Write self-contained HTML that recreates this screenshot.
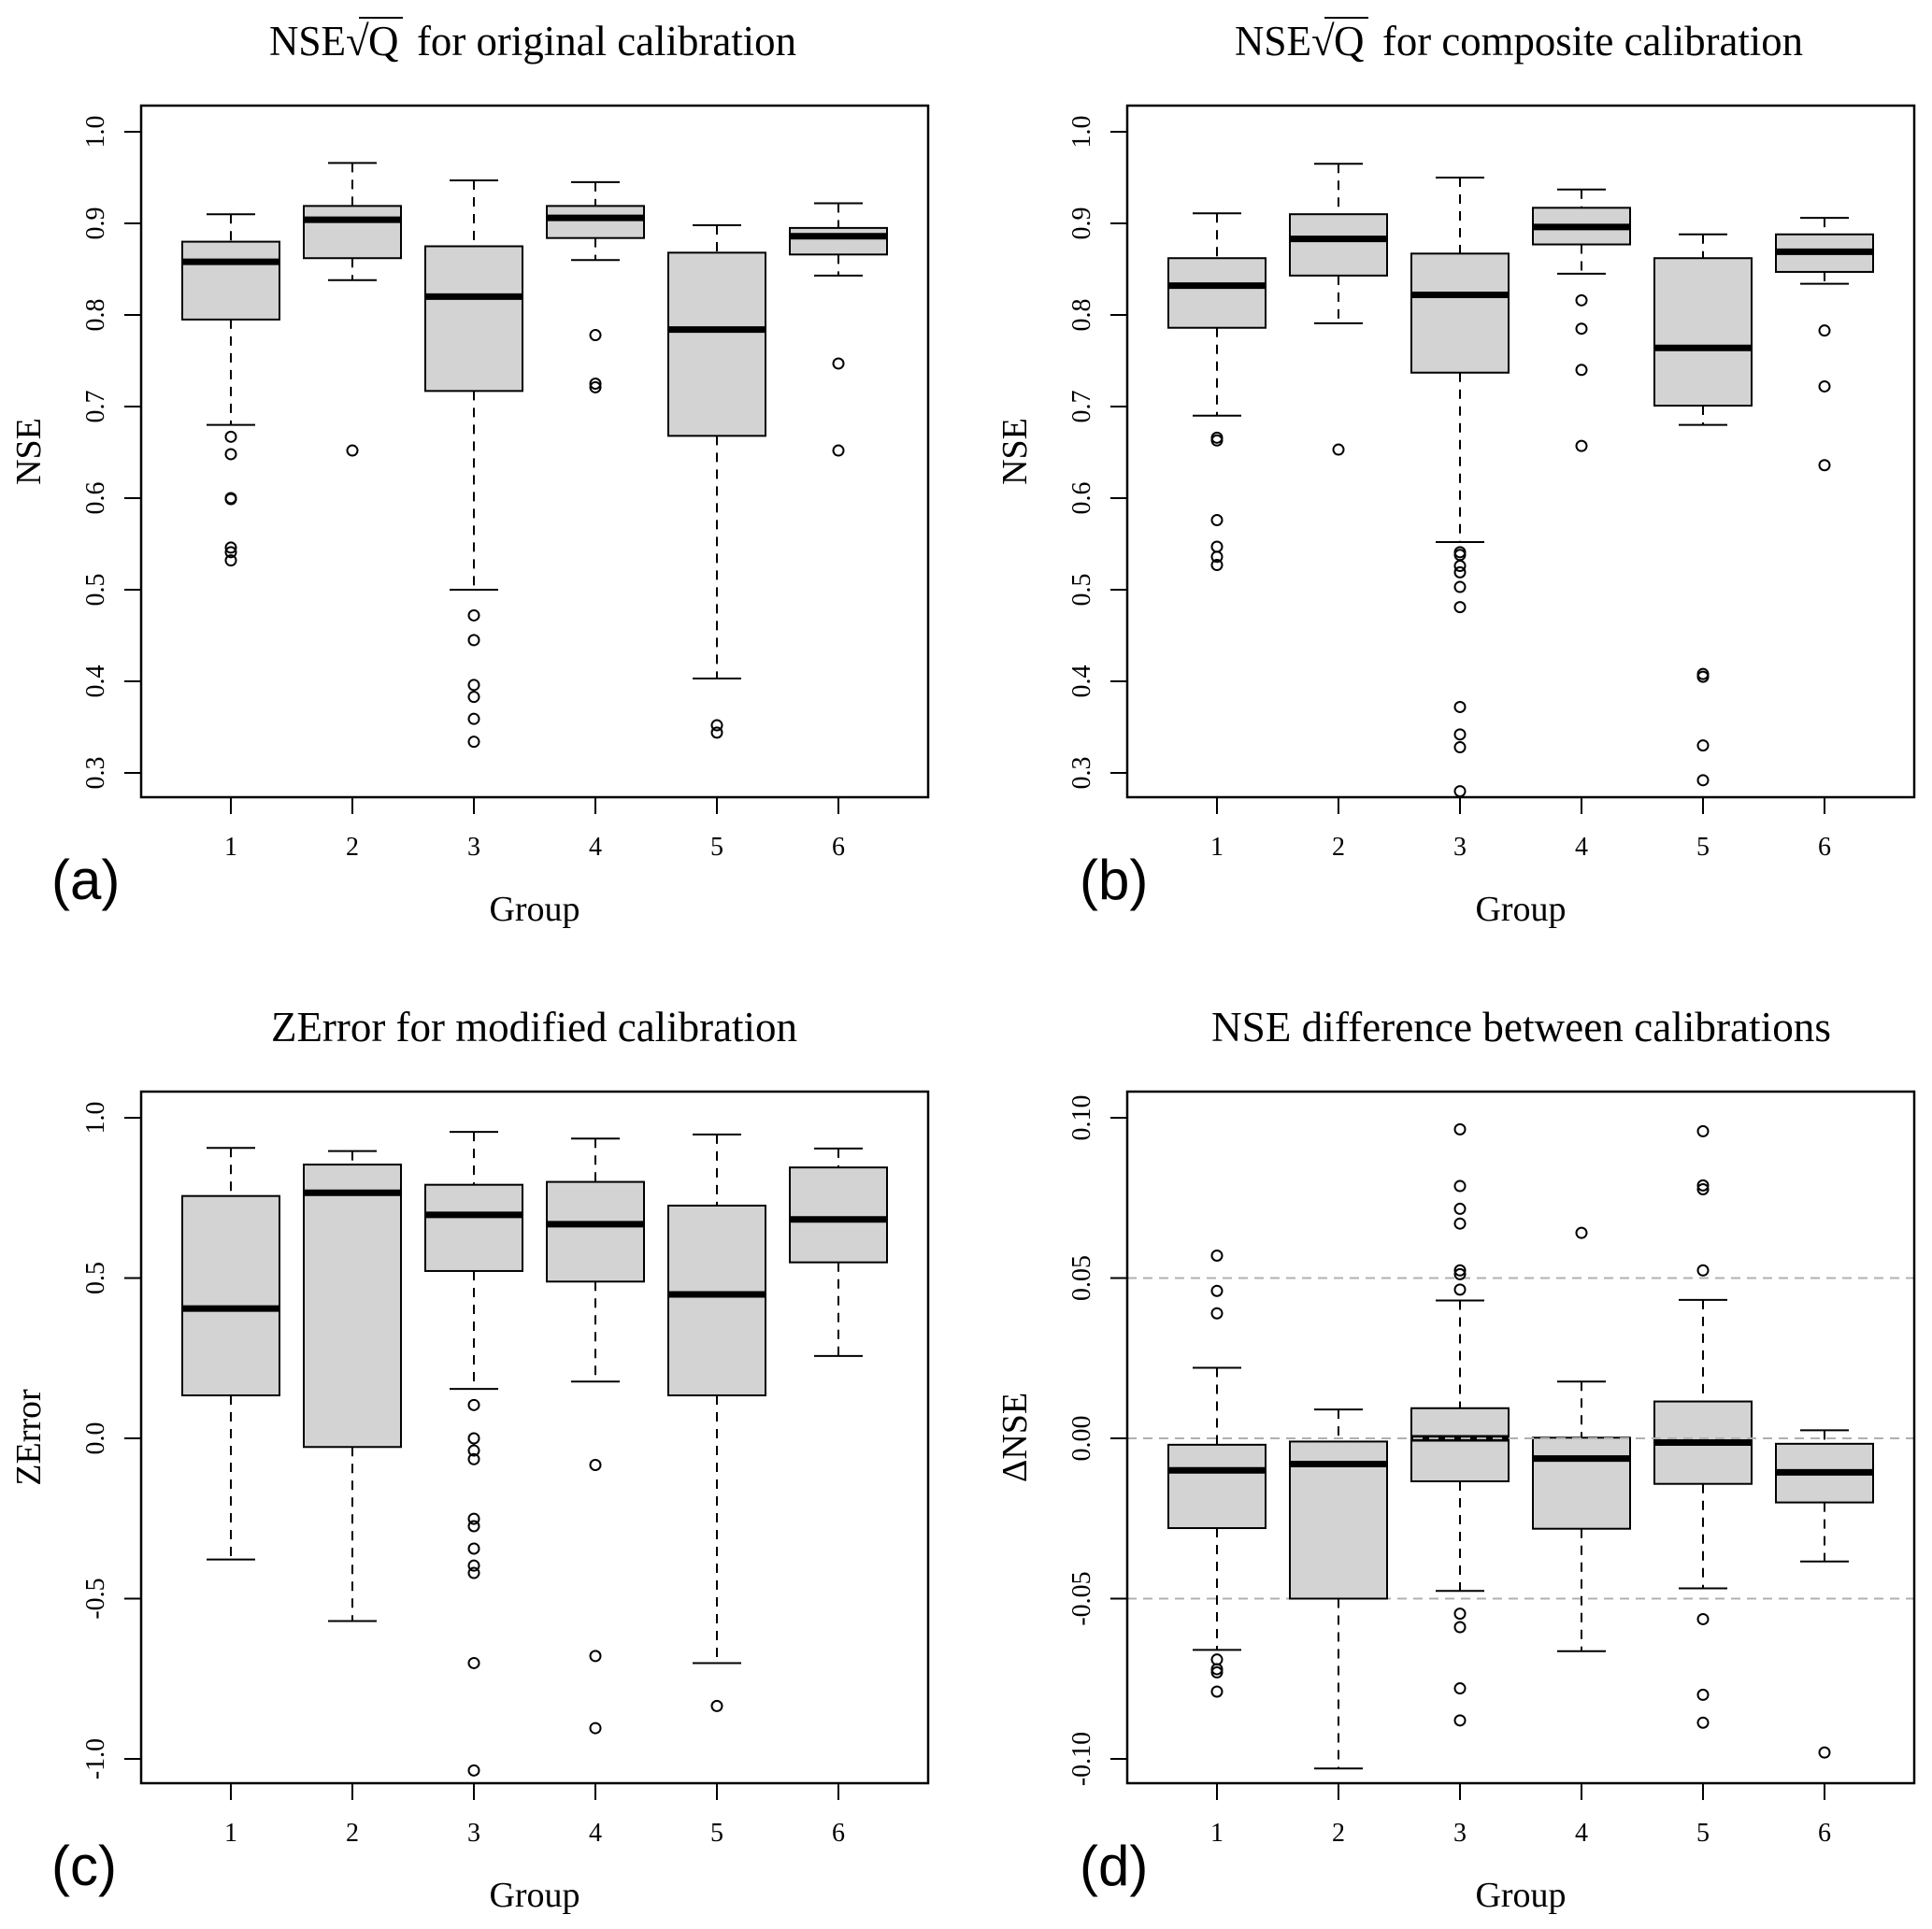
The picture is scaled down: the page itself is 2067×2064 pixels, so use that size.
<!DOCTYPE html>
<html><head><meta charset="utf-8"><style>
html,body{margin:0;padding:0;background:#fff;}
svg{display:block;font-family:"Liberation Serif",serif;}
</style></head><body>
<svg id="chart" width="2067" height="2064" viewBox="0 0 2067 2064" xmlns="http://www.w3.org/2000/svg"></svg>
<script>
// Panel (a) NSE sqrt(Q) original
const groups = ["1","2","3","4","5","6"];
const aLo  = [0.680,0.838,0.500,0.860,0.403,0.843];
const aQ1  = [0.795,0.862,0.717,0.884,0.668,0.866];
const aMed = [0.858,0.904,0.820,0.906,0.784,0.886];
const aQ3  = [0.880,0.919,0.875,0.919,0.868,0.895];
const aHi  = [0.910,0.966,0.947,0.945,0.898,0.922];
const aOut = [[0.667,0.648,0.600,0.599,0.546,0.541,0.532],[0.652],[0.472,0.445,0.396,0.383,0.359,0.334],[0.778,0.725,0.721],[0.352,0.344],[0.747,0.652]];
const aTicks = ["0.3","0.4","0.5","0.6","0.7","0.8","0.9","1.0"];
// Panel (b) composite
const bLo  = [0.690,0.791,0.552,0.845,0.680,0.834];
const bQ1  = [0.786,0.843,0.737,0.877,0.701,0.847];
const bMed = [0.832,0.883,0.822,0.896,0.764,0.869];
const bQ3  = [0.862,0.910,0.867,0.917,0.862,0.888];
const bHi  = [0.911,0.965,0.950,0.937,0.888,0.906];
const bOut = [[0.666,0.663,0.576,0.547,0.536,0.527],[0.653],[0.541,0.538,0.526,0.519,0.503,0.481,0.372,0.342,0.328,0.280],[0.816,0.785,0.740,0.657],[0.408,0.405,0.330,0.292],[0.783,0.722,0.636]];
const bTicks = aTicks;
// Panel (c) ZError
const cLo  = [-0.378,-0.570,0.154,0.177,-0.701,0.257];
const cQ1  = [0.134,-0.027,0.522,0.489,0.134,0.549];
const cMed = [0.405,0.766,0.697,0.668,0.449,0.683];
const cQ3  = [0.756,0.854,0.791,0.800,0.726,0.845];
const cHi  = [0.906,0.896,0.956,0.935,0.948,0.904];
const cOut = [[],[],[0.104,0.0,-0.038,-0.065,-0.251,-0.274,-0.344,-0.397,-0.420,-0.701,-1.036],[-0.083,-0.679,-0.904],[-0.835],[]];
const cTicks = ["-1.0","-0.5","0.0","0.5","1.0"];
// Panel (d) NSE difference
const dLo  = [-0.066,-0.103,-0.0476,-0.0664,-0.0468,-0.0384];
const dQ1  = [-0.028,-0.050,-0.0134,-0.0282,-0.0142,-0.020];
const dMed = [-0.010,-0.008,0.0,-0.0063,-0.0013,-0.0106];
const dQ3  = [-0.002,-0.001,0.0094,0.0002,0.0115,-0.0017];
const dHi  = [0.022,0.009,0.043,0.0177,0.0432,0.0025];
const dOut = [[0.057,0.046,0.039,-0.069,-0.072,-0.073,-0.079],[],[0.0964,0.0787,0.0716,0.067,0.0524,0.0512,0.0464,-0.0547,-0.0589,-0.078,-0.088],[0.0641],[0.0958,0.0789,0.0777,0.0524,-0.0564,-0.080,-0.0887],[-0.098]];
const dTicks = ["-0.10","-0.05","0.00","0.05","0.10"];
const dRef = [-0.05,0,0.05];

const NS="http://www.w3.org/2000/svg";
const svg=document.getElementById('chart');
function mk(tag,attrs,parent){const e=document.createElementNS(NS,tag);for(const k in attrs)e.setAttribute(k,attrs[k]);(parent||svg).appendChild(e);return e;}

function panel(ox,oy,key,lo,q1,med,q3,hi,out,ticks,ylab,letter,ref,letterX){
  const g=mk('g',{transform:`translate(${ox},${oy})`});
  
  
  const L=151,R=993,T=113,B=853;
  const tv=ticks.map(Number);
  const vmin=tv[0],vmax=tv[tv.length-1];
  const yS=v=>827+(v-vmin)/(vmax-vmin)*(141-827);
  const xS=i=>247+i*130;
  if(ref){ref.forEach(r=>{const l=mk('line',{x1:L,x2:R,y1:yS(r),y2:yS(r),stroke:'#b0b0b0','stroke-width':2,'stroke-dasharray':'10,7'},g);
    
    });}
  for(let i=0;i<groups.length;i++){
    const x=xS(i),hw=52,cw=26;
    const bg=mk('g',{},g);
    
    
    mk('line',{x1:x,x2:x,y1:yS(hi[i]),y2:yS(q3[i]),stroke:'#000','stroke-width':2,'stroke-dasharray':'10,8'},bg);
    mk('line',{x1:x,x2:x,y1:yS(q1[i]),y2:yS(lo[i]),stroke:'#000','stroke-width':2,'stroke-dasharray':'10,8'},bg);
    mk('line',{x1:x-cw,x2:x+cw,y1:yS(hi[i]),y2:yS(hi[i]),stroke:'#000','stroke-width':2},bg);
    mk('line',{x1:x-cw,x2:x+cw,y1:yS(lo[i]),y2:yS(lo[i]),stroke:'#000','stroke-width':2},bg);
    mk('rect',{x:x-hw,y:yS(q3[i]),width:2*hw,height:yS(q1[i])-yS(q3[i]),fill:'#d3d3d3',stroke:'#000','stroke-width':2},bg);
    mk('line',{x1:x-hw,x2:x+hw,y1:yS(med[i]),y2:yS(med[i]),stroke:'#000','stroke-width':7},bg);
    out[i].forEach(v=>{const c=mk('circle',{cx:x,cy:yS(v),r:5.5,fill:'none',stroke:'#000','stroke-width':2},bg);
      
      });
  }
  if(ref){const l=mk('line',{x1:L,x2:R,y1:yS(0),y2:yS(0),stroke:'#b0b0b0','stroke-width':2,'stroke-dasharray':'10,7'},g);
    
    }
  const fr=mk('rect',{x:L,y:T,width:R-L,height:B-T,fill:'none',stroke:'#000','stroke-width':2.5},g);
  
  
  tv.forEach((v,k)=>{const y=yS(v);
    mk('line',{x1:L-18,x2:L,y1:y,y2:y,stroke:'#000','stroke-width':2},g);
    const t=mk('text',{x:0,y:0,transform:`translate(111,${y}) rotate(-90)`,'text-anchor':'middle','font-size':28},g);
    t.textContent=ticks[k];
    
    });
  groups.forEach((s,i)=>{const x=xS(i);
    mk('line',{x1:x,x2:x,y1:B,y2:B+18,stroke:'#000','stroke-width':2},g);
    const t=mk('text',{x:x,y:915,'text-anchor':'middle','font-size':28},g);
    t.textContent=s;
    
    });
  const xl=mk('text',{x:572,y:985,'text-anchor':'middle','font-size':38},g);
  xl.textContent='Group';
  
  
  const yl=mk('text',{x:0,y:0,transform:`translate(43,483) rotate(-90)`,'text-anchor':'middle','font-size':38},g);
  yl.textContent=ylab;
  
  
  const lt=mk('text',{x:letterX,y:962,'font-size':60,'font-family':'"Liberation Sans",sans-serif'},g);
  lt.textContent='('+letter+')';
  
  
  return g;
}
const ga=panel(0,0,'a',aLo,aQ1,aMed,aQ3,aHi,aOut,aTicks,'NSE','a',null,55);
const gb=panel(1055,0,'b',bLo,bQ1,bMed,bQ3,bHi,bOut,bTicks,'NSE','b',null,100);
const gc=panel(0,1055,'c',cLo,cQ1,cMed,cQ3,cHi,cOut,cTicks,'ZError','c',null,55);
const gd=panel(1055,1055,'d',dLo,dQ1,dMed,dQ3,dHi,dOut,dTicks,'\u0394NSE','d',dRef,100);

function sqrtTitle(g,x0,rest,restEnd){
  const t1=mk('text',{x:x0,y:59,'font-size':45,textLength:82,lengthAdjust:'spacingAndGlyphs'},g);
  t1.textContent='NSE';
  const t2=mk('text',{x:x0+82,y:59,'font-size':45},g);
  t2.textContent='\u221A';
  mk('line',{x1:x0+96,x2:x0+143,y1:19,y2:19,stroke:'#000','stroke-width':2},g);
  const t3=mk('text',{x:x0+106,y:59,'font-size':45},g);
  t3.textContent='Q';
  const t4=mk('text',{x:x0+158,y:59,'font-size':45,textLength:restEnd-(x0+158),lengthAdjust:'spacingAndGlyphs'},g);
  t4.textContent=rest;
  
  
}
sqrtTitle(ga,288,'for original calibration',852);
sqrtTitle(gb,266,'for composite calibration',874);
const tc=mk('text',{x:290,y:59,'font-size':45,textLength:563,lengthAdjust:'spacingAndGlyphs'},gc);
tc.textContent='ZError for modified calibration';


const td=mk('text',{x:241,y:59,'font-size':45,textLength:663,lengthAdjust:'spacingAndGlyphs'},gd);
td.textContent='NSE difference between calibrations';


</script>
</body></html>
